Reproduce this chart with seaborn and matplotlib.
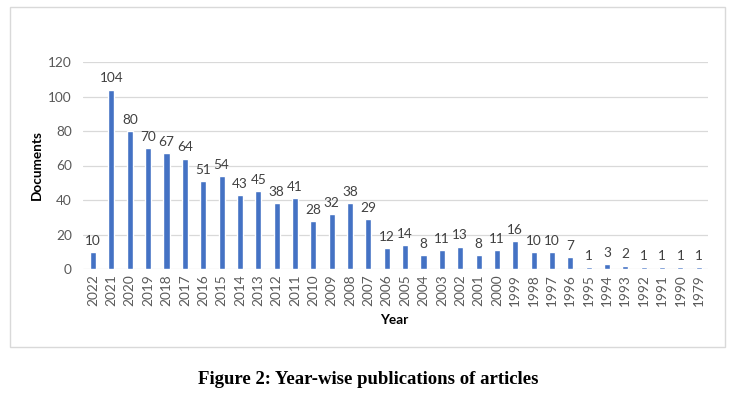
import matplotlib
matplotlib.use("Agg")
import matplotlib.pyplot as plt
import seaborn as sns
import pandas as pd
from matplotlib.patches import Rectangle

years = ["2022", "2021", "2020", "2019", "2018", "2017", "2016", "2015", "2014", "2013",
         "2012", "2011", "2010", "2009", "2008", "2007", "2006", "2005", "2004", "2003",
         "2002", "2001", "2000", "1999", "1998", "1997", "1996", "1995", "1994", "1993",
         "1992", "1991", "1990", "1979"]
documents = [10, 104, 80, 70, 67, 64, 51, 54, 43, 45,
             38, 41, 28, 32, 38, 29, 12, 14, 8, 11,
             13, 8, 11, 16, 10, 10, 7, 1, 3, 2,
             1, 1, 1, 1]
yticks = [0, 20, 40, 60, 80, 100, 120]

df = pd.DataFrame({"Year": years, "Documents": documents})

sns.set_theme(style="white")
plt.rcParams['font.family'] = ['Lato', 'DejaVu Sans']

fig = plt.figure(figsize=(7.36, 3.99), dpi=100)
fig.patch.set_facecolor("white")
ax = fig.add_axes([83/736, 1-269/399, (708-83)/736, (269-62)/399])

sns.barplot(data=df, x="Year", y="Documents", order=years, color="#4472C4",
            width=0.33, saturation=1, ax=ax, zorder=3)

for i, v in enumerate(documents):
    ax.text(i, v + 3, str(v), ha="center", va="bottom", fontsize=9.8, color="#404040")

ax.set_ylim(0, 120)
ax.set_xlim(-0.55, len(years) - 0.5)
ax.set_yticks(yticks)
ax.yaxis.grid(True, color="#D9D9D9", linewidth=0.9, zorder=0)
ax.set_axisbelow(True)
for s in ax.spines.values():
    s.set_visible(False)
ax.tick_params(axis="y", length=0, labelsize=9.8, labelcolor="#595959", pad=8)
ax.tick_params(axis="x", length=0, labelsize=9.8, labelcolor="#595959", rotation=90, pad=4)
ax.set_xlabel("")
ax.set_ylabel("")

fig.text(394/736, 1-320/399, "Year", ha="center", va="center", fontsize=9.8,
         fontweight="bold", color="black")
fig.text(37/736, 1-165/399, "Documents", ha="center", va="center", fontsize=9.8,
         fontweight="bold", color="black", rotation=90)

fig.patches.append(Rectangle((10/736, 1-347/399), (725-10)/736, (347-7)/399,
                             transform=fig.transFigure, fill=False,
                             edgecolor="#D9D9D9", linewidth=1))

fig.text(368/736, 1-380/399, "Figure 2: Year-wise publications of articles",
         ha="center", va="center", fontsize=13.5, fontweight="bold",
         family=["Liberation Serif", "DejaVu Serif"], color="black")

fig.savefig("out.png", dpi=100)
